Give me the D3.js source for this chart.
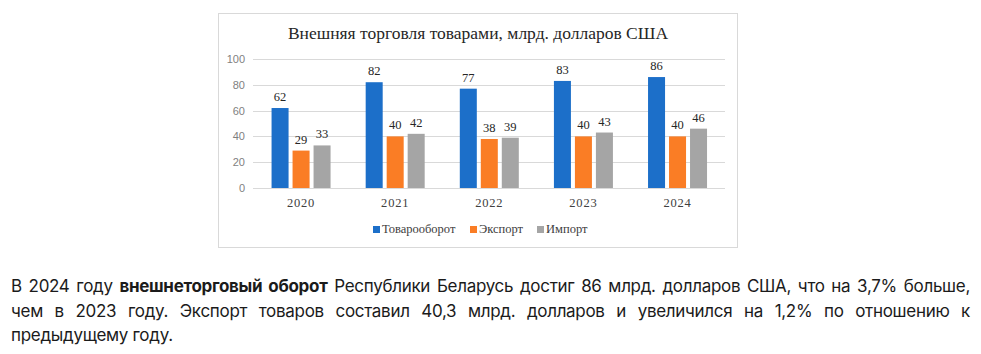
<!DOCTYPE html>
<html>
<head>
<meta charset="utf-8">
<script src="https://cdn.jsdelivr.net/npm/d3@7"></script>
<style>
  body { margin: 0; background: #fff; width: 981px; height: 354px; overflow: hidden; }
  #chart { position: absolute; left: 0; top: 0; }
  .para { position: absolute; left: 11px; top: 274px; width: 959px; font-family: Inter, "Noto Sans", sans-serif; font-size: 17px; letter-spacing: -0.3px; color: #1b1b1b; }
  .para div { height: 24.5px; line-height: 24.5px; white-space: nowrap; }
  .para .j { text-align: justify; text-align-last: justify; white-space: normal; }
</style>
</head>
<body>
<svg id="chart" width="981" height="254"></svg>
<div class="para">
  <div class="j">В 2024 году <b>внешнеторговый оборот</b> Республики Беларусь достиг 86 млрд. долларов США, что на 3,7% больше,</div>
  <div class="j">чем в 2023 году. Экспорт товаров составил 40,3 млрд. долларов и увеличился на 1,2% по отношению к</div>
  <div>предыдущему году.</div>
</div>
<script>
const years = ["2020", "2021", "2022", "2023", "2024"];
const seriesNames = ["Товарооборот", "Экспорт", "Импорт"];
const turnover = [62, 82, 77, 83, 86];
const exportVals = [29, 40, 38, 40, 40];
const importVals = [33, 42, 39, 43, 46];
const yTicks = [0, 20, 40, 60, 80, 100];
const colors = ["#1c6fc9", "#fa7d25", "#a5a5a5"];

const allSeries = [turnover, exportVals, importVals];

const svg = d3.select("#chart");

// frame of the chart picture
svg.append("rect")
    .attr("x", 218.5).attr("y", 13.5)
    .attr("width", 519).attr("height", 234)
    .attr("fill", "#fff")
    .attr("stroke", "#d9d9d9");

svg.append("text")
    .attr("x", 478).attr("y", 39)
    .attr("text-anchor", "middle")
    .style("font-family", "'Liberation Serif', 'Times New Roman', serif")
    .style("font-size", "17.5px")
    .attr("fill", "#262626")
    .text("Внешняя торговля товарами, млрд. долларов США");

const x = d3.scaleBand().domain(years).range([254, 724.6]);
const xs = d3.scaleBand().domain(seriesNames)
    .range([(x.bandwidth() - 59) / 2, (x.bandwidth() + 59) / 2])
    .paddingInner(0.19);
const y = d3.scaleLinear().domain([0, 100]).range([188, 59]);

// gridlines
svg.append("g").selectAll("line")
    .data(yTicks)
    .join("line")
    .attr("x1", 253).attr("x2", 725)
    .attr("y1", d => Math.round(y(d)) + 0.5)
    .attr("y2", d => Math.round(y(d)) + 0.5)
    .attr("stroke", "#d9d9d9");

// y axis labels
svg.append("g").selectAll("text")
    .data(yTicks)
    .join("text")
    .attr("x", 245)
    .attr("y", d => y(d) + 4)
    .attr("text-anchor", "end")
    .style("font-family", "'Liberation Sans', Arial, sans-serif")
    .style("font-size", "11px")
    .attr("fill", "#7f7f7f")
    .text(d => d);

// bars
const groups = svg.append("g").selectAll("g")
    .data(years)
    .join("g")
    .attr("transform", d => `translate(${x(d)},0)`);

groups.selectAll("rect")
    .data((d, i) => seriesNames.map((s, k) => ({ s, k, v: allSeries[k][i] })))
    .join("rect")
    .attr("x", d => xs(d.s))
    .attr("width", xs.bandwidth())
    .attr("y", d => y(d.v))
    .attr("height", d => y(0) - y(d.v))
    .attr("fill", d => colors[d.k]);

groups.selectAll("text")
    .data((d, i) => seriesNames.map((s, k) => ({ s, k, v: allSeries[k][i] })))
    .join("text")
    .attr("x", d => xs(d.s) + xs.bandwidth() / 2)
    .attr("y", d => y(d.v) - 7)
    .attr("text-anchor", "middle")
    .style("font-family", "'Liberation Serif', 'Times New Roman', serif")
    .style("font-size", "12.5px")
    .attr("fill", "#262626")
    .text(d => d.v);

// year labels
svg.append("g").selectAll("text")
    .data(years)
    .join("text")
    .attr("x", d => x(d) + x.bandwidth() / 2)
    .attr("y", 207)
    .attr("text-anchor", "middle")
    .style("font-family", "'Liberation Serif', 'Times New Roman', serif")
    .style("font-size", "12.5px")
    .style("letter-spacing", "0.8px")
    .attr("fill", "#404040")
    .text(d => d);

// legend
const legendX = [373, 470, 537];
const legend = svg.append("g").selectAll("g")
    .data(seriesNames)
    .join("g")
    .attr("transform", (d, i) => `translate(${legendX[i]},226)`);
legend.append("rect")
    .attr("width", 7).attr("height", 7)
    .attr("fill", (d, i) => colors[i]);
legend.append("text")
    .attr("x", 9).attr("y", 7)
    .style("font-family", "'Liberation Serif', 'Times New Roman', serif")
    .style("font-size", "12.5px")
    .attr("fill", "#404040")
    .text(d => d);
</script>
</body>
</html>
